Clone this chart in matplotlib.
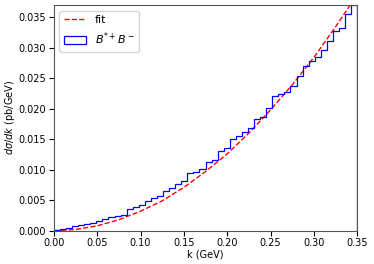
import matplotlib
matplotlib.use('Agg')
import matplotlib.pyplot as plt
import numpy as np

# Histogram: 50 bins from 0 to 0.35 GeV
bin_edges = np.linspace(0, 0.35, 51)
hist_values = [0.0001, 0.0003, 0.0005, 0.0007, 0.0009, 0.0011, 0.0013, 0.0016, 0.0019, 0.0022,
               0.0024, 0.0026, 0.0036, 0.0039, 0.0042, 0.0048, 0.0053, 0.0057, 0.0065, 0.0070,
               0.0077, 0.0082, 0.0095, 0.0096, 0.0101, 0.0113, 0.0116, 0.0131, 0.0135, 0.0150,
               0.0155, 0.0162, 0.0168, 0.0183, 0.0186, 0.0202, 0.0221, 0.0224, 0.0228, 0.0237,
               0.0254, 0.0270, 0.0278, 0.0284, 0.0296, 0.0311, 0.0327, 0.0332, 0.0355, 0.0370]

# Fit curve
fit_k = [0.0, 0.025, 0.05, 0.075, 0.1, 0.125, 0.15, 0.175, 0.2, 0.225, 0.25, 0.275, 0.3, 0.325, 0.35]
fit_values = [0.0, 0.0002, 0.0008, 0.0018, 0.0032, 0.0049, 0.0071, 0.0097, 0.0126, 0.0160,
              0.0198, 0.0239, 0.0284, 0.0334, 0.0387]

plt.rcParams['font.size'] = 7

fig = plt.figure(figsize=(3.74, 2.64), dpi=100)
ax = fig.add_axes([0.144, 0.126, 0.811, 0.855])

ax.plot(fit_k, fit_values, 'r--', linewidth=1.0, label='fit')
ax.hist(bin_edges[:-1], bins=bin_edges, weights=hist_values, histtype='step',
        color='blue', linewidth=0.9, label='$B^{*+}B^-$')

ax.set_xlim(0, 0.35)
ax.set_ylim(0, 0.037)
ax.set_xticks(np.arange(0, 0.351, 0.05))
ax.set_yticks(np.arange(0, 0.0351, 0.005))
ax.set_xticklabels(['%.2f' % t for t in np.arange(0, 0.351, 0.05)])
ax.set_yticklabels(['%.3f' % t for t in np.arange(0, 0.0351, 0.005)])
ax.tick_params(pad=2)

ax.set_xlabel('k (GeV)', labelpad=1)
ax.set_ylabel(r'$d\sigma/dk$ (pb/GeV)', labelpad=1)

for s in ax.spines.values():
    s.set_color('#555555')

ax.legend(loc='upper left', fontsize=8)

fig.savefig('out.png', dpi=100)
